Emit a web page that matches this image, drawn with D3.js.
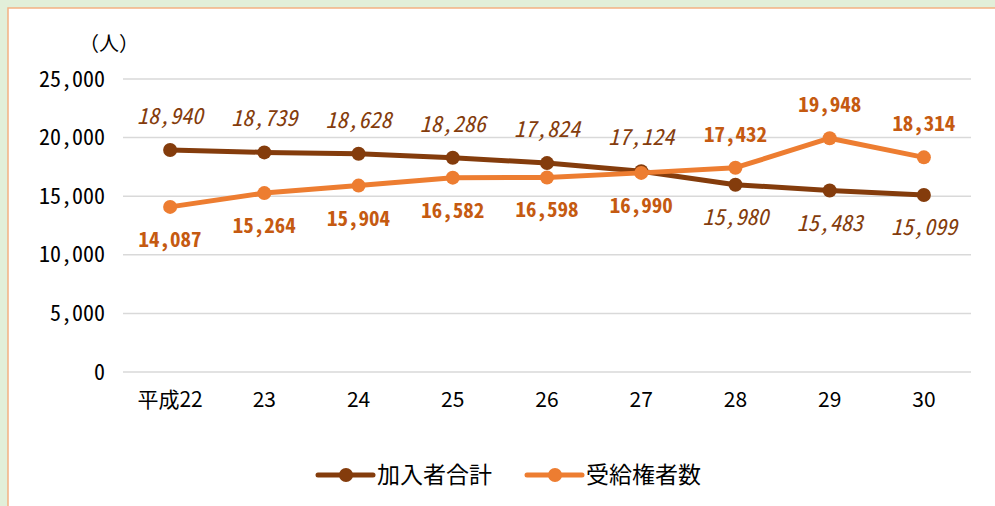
<!DOCTYPE html>
<html><head><meta charset="utf-8">
<script src="https://cdn.jsdelivr.net/npm/d3@7"></script>
<style>
html,body{margin:0;padding:0;background:#e2efd9;overflow:hidden}
svg{display:block}
text{font-family:"Noto Sans CJK JP","Noto Sans",sans-serif}
.mono{font-family:"Noto Sans Mono CJK JP","Liberation Mono",monospace}
</style></head>
<body>
<svg id="c" width="995" height="506"></svg>
<script>
const categories = ["平成22","23","24","25","26","27","28","29","30"];
const members = [18940,18739,18628,18286,17824,17124,15980,15483,15099];
const recipients = [14087,15264,15904,16582,16598,16990,17432,19948,18314];
const yTicks = [0,5000,10000,15000,20000,25000];
const seriesNames = ["加入者合計","受給権者数"];
const membersLabelAbove = [true,true,true,true,true,true,false,false,false];
const recipientsLabelAbove = [false,false,false,false,false,false,true,true,true];

const svg = d3.select("#c");
svg.append("rect").attr("x",8).attr("y",8).attr("width",1000).attr("height",510)
  .attr("fill","#fff").attr("stroke","#f4b183").attr("stroke-width",1.5);

const x = d3.scaleBand().domain(categories).range([123,971]);
const cx = d => x(d)+x.bandwidth()/2;
const y = d3.scaleLinear().domain([0,25000]).range([372,79]);
const fmt = d3.format(",");

// gridlines
svg.append("g").selectAll("line").data(yTicks).join("line")
  .attr("x1",123).attr("x2",971).attr("y1",d=>y(d)).attr("y2",d=>y(d))
  .attr("stroke","#d9d9d9").attr("stroke-width",1.5);

// y axis labels
const yAxis = svg.append("g").attr("transform","translate(105,0)")
  .call(d3.axisLeft(y).tickValues(yTicks).tickFormat(fmt).tickSize(0).tickPadding(0));
yAxis.select(".domain").remove();
yAxis.selectAll("text").attr("class","mono").attr("font-size",22).attr("fill","#000");

// x axis labels
const xAxis = svg.append("g").attr("transform","translate(0,392)")
  .call(d3.axisBottom(x).tickSize(0).tickPadding(0));
xAxis.select(".domain").remove();
xAxis.selectAll("text").attr("font-size",21).attr("fill","#000").attr("dy","0.72em");

svg.append("text").attr("x",79).attr("y",51).attr("font-size",20).attr("fill","#000").text("（人）");

const line = d3.line().x((d,i)=>cx(categories[i])).y(d=>y(d));
const cols = ["#843c0c","#ed7d31"];
const labCols = ["#843c0c","#c55a11"];

[[members,membersLabelAbove],[recipients,recipientsLabelAbove]].forEach(([vals,above],k)=>{
  const g = svg.append("g");
  g.append("path").datum(vals).attr("d",line).attr("fill","none")
    .attr("stroke",cols[k]).attr("stroke-width",5).attr("stroke-linejoin","round");
  g.selectAll("circle").data(vals).join("circle")
    .attr("cx",(d,i)=>cx(categories[i])).attr("cy",d=>y(d)).attr("r",7).attr("fill",cols[k]);
  g.selectAll("text").data(vals).join("text")
    .attr("class","mono")
    .attr("x",(d,i)=>cx(categories[i]))
    .attr("y",(d,i)=>above[i]? y(d)-26 : y(d)+40)
    .attr("text-anchor","middle").attr("font-size",k===0?22:21)
    .attr("font-style",k===0?"italic":"normal")
    .attr("font-weight",k===0?"normal":"bold")
    .attr("fill",labCols[k]).text(d=>fmt(d));
});

// legend
const leg = svg.append("g");
const legX = [318,527];
seriesNames.forEach((n,k)=>{
  leg.append("line").attr("x1",legX[k]).attr("x2",legX[k]+55).attr("y1",475).attr("y2",475)
    .attr("stroke",cols[k]).attr("stroke-width",5).attr("stroke-linecap","round");
  leg.append("circle").attr("cx",legX[k]+28).attr("cy",475).attr("r",7).attr("fill",cols[k]);
  leg.append("text").attr("x",legX[k]+59).attr("y",483).attr("font-size",23).attr("fill","#000").text(n);
});
</script>
</body></html>
